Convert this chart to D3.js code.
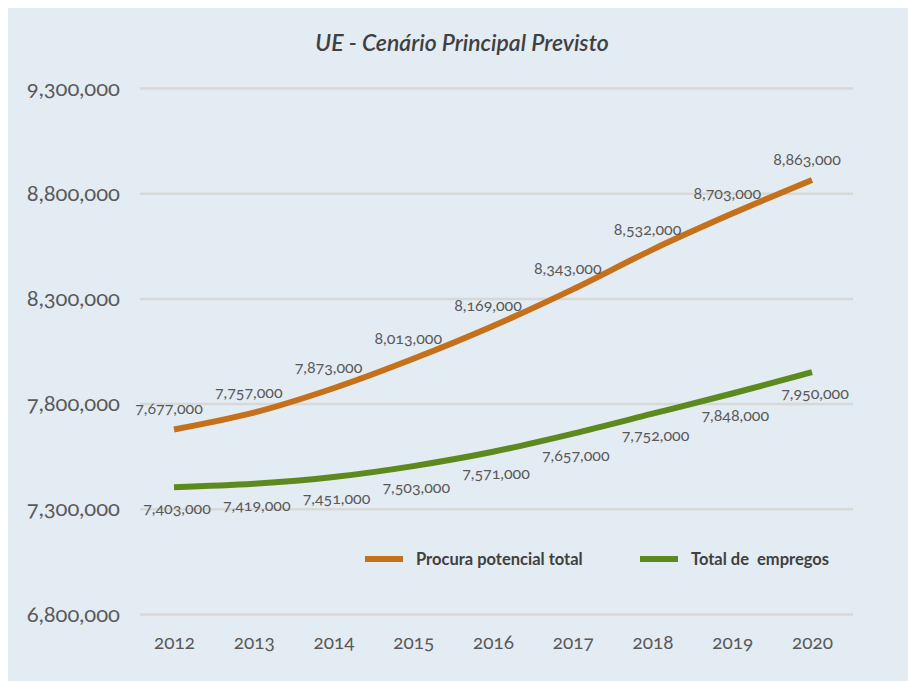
<!DOCTYPE html>
<html>
<head>
<meta charset="utf-8">
<script src="https://cdn.jsdelivr.net/npm/d3@7"></script>
<style>
  body { margin: 0; background: #fff; }
  svg text { font-family: Lato, "Open Sans", sans-serif; font-variant-numeric: oldstyle-nums; }
</style>
</head>
<body>
<div id="grafico"></div>
<script>
// Dados do gráfico
const anos = ["2012", "2013", "2014", "2015", "2016", "2017", "2018", "2019", "2020"];
const procura = [7677000, 7757000, 7873000, 8013000, 8169000, 8343000, 8532000, 8703000, 8863000];
const empregos = [7403000, 7419000, 7451000, 7503000, 7571000, 7657000, 7752000, 7848000, 7950000];
const ticksY = [6800000, 7300000, 7800000, 8300000, 8800000, 9300000];
const series = [
  { nome: "Procura potencial total", valores: procura, cor: "#c5701a" },
  { nome: "Total de  empregos", valores: empregos, cor: "#5d8a1e" }
];

const width = 908, height = 681;
const svg = d3.select("#grafico").append("svg")
  .attr("width", width).attr("height", height);

// Fundo do painel
svg.append("rect").attr("x", 8).attr("y", 8)
  .attr("width", width - 8).attr("height", height - 8)
  .attr("fill", "#e3ebf3");

const x = d3.scalePoint().domain(anos).range([174, 812]);
const y = d3.scaleLinear().domain([6800000, 9300000]).range([614, 88]);

// Título
svg.append("text")
  .attr("x", 462).attr("y", 51)
  .attr("text-anchor", "middle")
  .style("font-size", "23px").style("font-style", "italic").style("font-weight", "600")
  .attr("fill", "#404040")
  .text("UE - Cenário Principal Previsto");

// Grelha e eixo Y
const eixoY = svg.append("g").attr("transform", "translate(140,0)")
  .call(d3.axisLeft(y).tickValues(ticksY).tickSize(-713).tickFormat(d3.format(",")).tickPadding(20));
eixoY.select(".domain").remove();
eixoY.selectAll("line").attr("stroke", "#d8d9d6").attr("stroke-width", 2.5);
eixoY.selectAll("text").attr("fill", "#595959").style("font-size", "22px");

// Eixo X
const eixoX = svg.append("g").attr("transform", "translate(0,630)")
  .call(d3.axisBottom(x).tickSize(0).tickPadding(5));
eixoX.select(".domain").remove();
eixoX.selectAll("text").attr("fill", "#595959").style("font-size", "19px");

// Linhas
const linha = d3.line()
  .x((d, i) => x(anos[i]))
  .y(d => y(d))
  .curve(d3.curveCatmullRom);

svg.selectAll(".serie")
  .data(series)
  .join("path")
  .attr("class", "serie")
  .attr("d", d => linha(d.valores))
  .attr("fill", "none")
  .attr("stroke", d => d.cor)
  .attr("stroke-width", 6);

// Rótulos de dados
svg.append("g").selectAll("text")
  .data(procura)
  .join("text")
  .attr("x", (d, i) => x(anos[i]) - 5)
  .attr("y", d => y(d) - 15)
  .attr("text-anchor", "middle")
  .attr("fill", "#595959")
  .style("font-size", "16px")
  .text(d => d3.format(",")(d));

svg.append("g").selectAll("text")
  .data(empregos)
  .join("text")
  .attr("x", (d, i) => x(anos[i]) + 3)
  .attr("y", d => y(d) + 27)
  .attr("text-anchor", "middle")
  .attr("fill", "#595959")
  .style("font-size", "16px")
  .text(d => d3.format(",")(d));

// Legenda
const legenda = svg.append("g").selectAll("g")
  .data(series)
  .join("g")
  .attr("transform", (d, i) => `translate(${i === 0 ? 365 : 640},559)`);

legenda.append("line")
  .attr("x1", 0).attr("x2", 38)
  .attr("stroke", d => d.cor).attr("stroke-width", 6);

legenda.append("text")
  .attr("x", 51).attr("y", 6)
  .attr("fill", "#404040")
  .style("font-size", "16.5px").style("font-weight", "bold")
  .style("white-space", "pre")
  .text(d => d.nome);
</script>
</body>
</html>
